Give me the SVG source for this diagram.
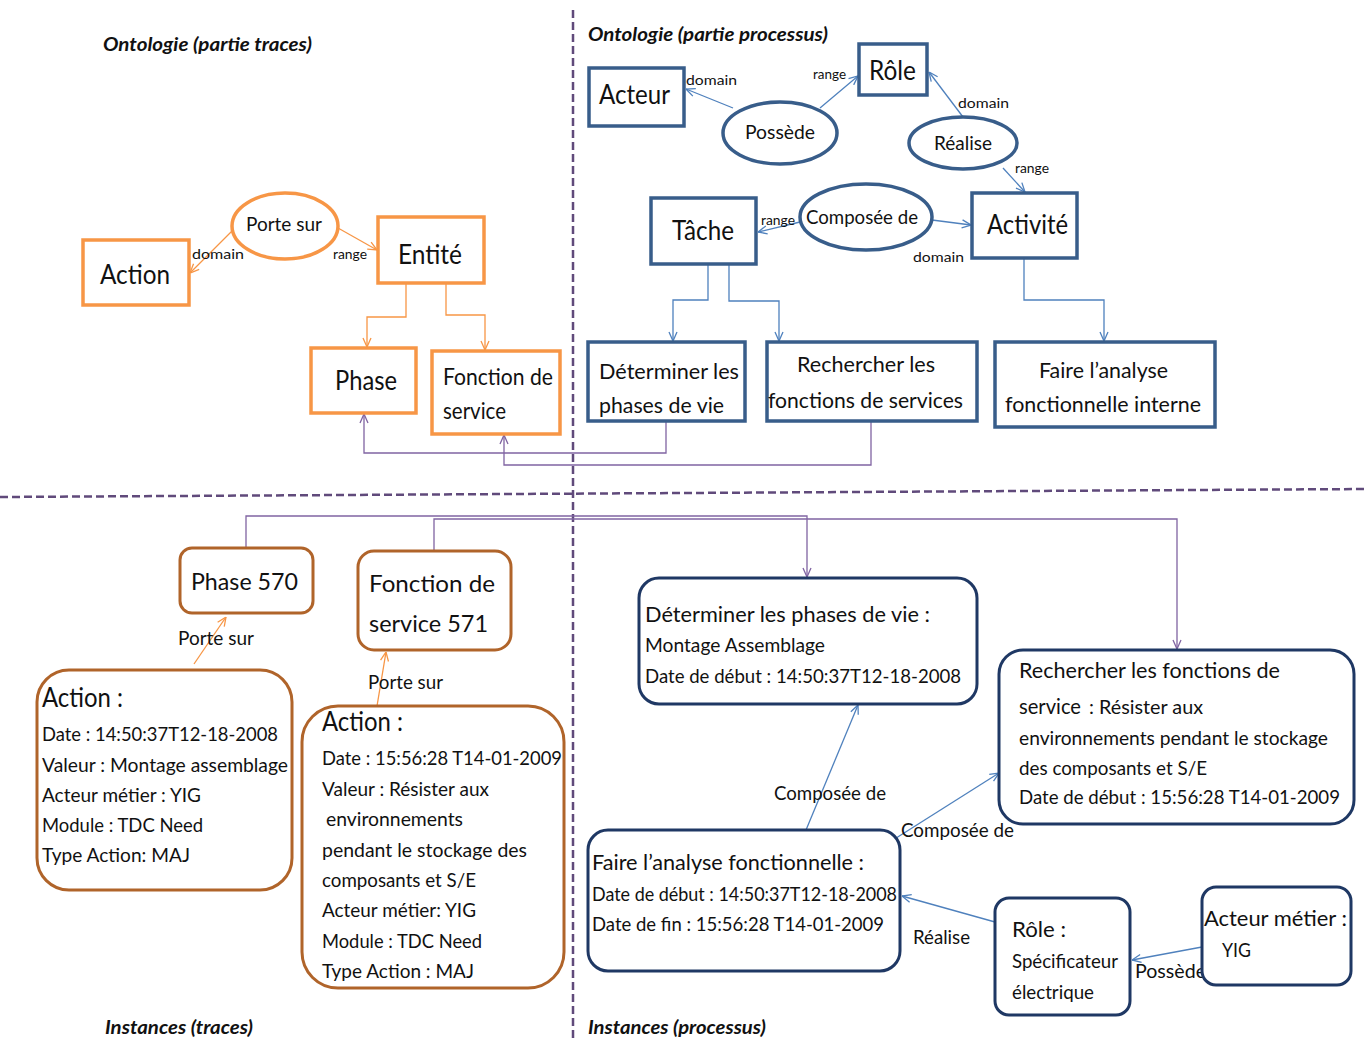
<svg xmlns="http://www.w3.org/2000/svg" width="1371" height="1039" viewBox="0 0 1371 1039">
<style>
text{font-family:Lato,"Open Sans","Liberation Sans",sans-serif;fill:#111}
.t26{font-size:26px}
.t24{font-size:24px}
.t22{font-size:22px}
.t20{font-size:20px}
.t14{font-size:14px}
.title{font-size:19px;font-weight:bold;font-style:italic}
.ob{fill:#fff;stroke:#f79646;stroke-width:3.5}
.bb{fill:#fff;stroke:#385d8a;stroke-width:3.5}
.br{fill:#fff;stroke:#b0642a;stroke-width:3}
.nv{fill:#fff;stroke:#1f3864;stroke-width:3}
.co{fill:none;stroke:#f79646;stroke-width:1.3}
.cb{fill:none;stroke:#4f81bd;stroke-width:1.3}
.cp{fill:none;stroke:#8064a2;stroke-width:1.3}
.sep{fill:none;stroke:#604a7b;stroke-width:2.5;stroke-dasharray:8 4}
</style>
<defs>
<marker id="ao" viewBox="0 0 10 10" refX="10" refY="5" markerWidth="10" markerHeight="10" markerUnits="userSpaceOnUse" orient="auto"><path d="M1,1 L10,5 L1,9" fill="none" stroke="#f79646" stroke-width="1.3"/></marker>
<marker id="ab" viewBox="0 0 10 10" refX="10" refY="5" markerWidth="10" markerHeight="10" markerUnits="userSpaceOnUse" orient="auto"><path d="M1,1 L10,5 L1,9" fill="none" stroke="#4f81bd" stroke-width="1.3"/></marker>
<marker id="ap" viewBox="0 0 10 10" refX="10" refY="5" markerWidth="10" markerHeight="10" markerUnits="userSpaceOnUse" orient="auto"><path d="M1,1 L10,5 L1,9" fill="none" stroke="#8064a2" stroke-width="1.3"/></marker>
</defs>
<rect width="1371" height="1039" fill="#fff"/>

<g id="separators">
<line class="sep" x1="573" y1="10" x2="573" y2="1039" stroke-dasharray="10 5"/>
<line class="sep" x1="0" y1="497" x2="1366" y2="489"/>
</g>

<g id="titles">
<text class="title" x="103" y="51" textLength="209" lengthAdjust="spacingAndGlyphs">Ontologie (partie traces)</text>
<text class="title" x="588" y="41" textLength="240" lengthAdjust="spacingAndGlyphs">Ontologie (partie processus)</text>
<text class="title" x="105" y="1034" textLength="148" lengthAdjust="spacingAndGlyphs">Instances (traces)</text>
<text class="title" x="588" y="1034" textLength="178" lengthAdjust="spacingAndGlyphs">Instances (processus)</text>
</g>

<g id="connectors">
<!-- orange ontology -->
<line class="co" x1="232" y1="231" x2="190" y2="273" marker-end="url(#ao)"/>
<line class="co" x1="338" y1="228" x2="377" y2="250" marker-end="url(#ao)"/>
<path class="co" d="M406,284 V317 H367 V347" marker-end="url(#ao)"/>
<path class="co" d="M446,284 V315 H485 V350" marker-end="url(#ao)"/>
<text class="t14" x="192" y="259" textLength="52" lengthAdjust="spacingAndGlyphs">domain</text>
<text class="t14" x="333" y="259" textLength="34" lengthAdjust="spacingAndGlyphs">range</text>
<!-- blue ontology -->
<line class="cb" x1="733" y1="108" x2="686" y2="89" marker-end="url(#ab)"/>
<line class="cb" x1="820" y1="108" x2="858" y2="76" marker-end="url(#ab)"/>
<line class="cb" x1="963" y1="117" x2="929" y2="72" marker-end="url(#ab)"/>
<line class="cb" x1="1003" y1="168" x2="1025" y2="192" marker-end="url(#ab)"/>
<line class="cb" x1="800" y1="222" x2="758" y2="232" marker-end="url(#ab)"/>
<line class="cb" x1="932" y1="220" x2="971" y2="225" marker-end="url(#ab)"/>
<path class="cb" d="M708,265 V300 H673 V341" marker-end="url(#ab)"/>
<path class="cb" d="M729,265 V301 H779 V341" marker-end="url(#ab)"/>
<path class="cb" d="M1024,259 V300 H1104 V341" marker-end="url(#ab)"/>
<text class="t14" x="686" y="85" textLength="51" lengthAdjust="spacingAndGlyphs">domain</text>
<text class="t14" x="813" y="79" textLength="33" lengthAdjust="spacingAndGlyphs">range</text>
<text class="t14" x="958" y="108" textLength="51" lengthAdjust="spacingAndGlyphs">domain</text>
<text class="t14" x="1015" y="173" textLength="34" lengthAdjust="spacingAndGlyphs">range</text>
<text class="t14" x="761" y="225" textLength="34" lengthAdjust="spacingAndGlyphs">range</text>
<text class="t14" x="913" y="262" textLength="51" lengthAdjust="spacingAndGlyphs">domain</text>
<!-- purple ontology -->
<path class="cp" d="M666,422 V453 H364 V414" marker-end="url(#ap)"/>
<path class="cp" d="M871,422 V465 H504 V435" marker-end="url(#ap)"/>
<!-- purple instances -->
<path class="cp" d="M246,547 V516 H807 V577" marker-end="url(#ap)"/>
<path class="cp" d="M434,550 V519 H1177 V649" marker-end="url(#ap)"/>
<!-- orange instances -->
<line class="co" x1="194" y1="664" x2="226" y2="617" marker-end="url(#ao)"/>
<line class="co" x1="376" y1="712" x2="386" y2="652" marker-end="url(#ao)"/>
<text class="t20" x="178" y="645" textLength="76" lengthAdjust="spacingAndGlyphs">Porte sur</text>
<text class="t20" x="368" y="689" textLength="75" lengthAdjust="spacingAndGlyphs">Porte sur</text>
<!-- blue instances -->
<line class="cb" x1="806" y1="830" x2="858" y2="705" marker-end="url(#ab)"/>
<line class="cb" x1="893" y1="840" x2="999" y2="773" marker-end="url(#ab)"/>
<line class="cb" x1="995" y1="922" x2="902" y2="896" marker-end="url(#ab)"/>
<line class="cb" x1="1202" y1="947" x2="1132" y2="960" marker-end="url(#ab)"/>
<text class="t20" x="774" y="800" textLength="112" lengthAdjust="spacingAndGlyphs">Composée de</text>
<text class="t20" x="901" y="837" textLength="113" lengthAdjust="spacingAndGlyphs">Composée de</text>
<text class="t20" x="913" y="944" textLength="57" lengthAdjust="spacingAndGlyphs">Réalise</text>
<text class="t20" x="1135" y="978" textLength="71" lengthAdjust="spacingAndGlyphs">Possède</text>
</g>

<!-- ontology traces -->
<g id="action"><rect class="ob" x="83" y="240" width="106" height="65"/><text class="t26" x="100" y="284" textLength="70" lengthAdjust="spacingAndGlyphs">Action</text></g>
<g id="porte-sur"><ellipse class="ob" cx="285" cy="226" rx="53" ry="33"/><text class="t20" x="246" y="231" textLength="76" lengthAdjust="spacingAndGlyphs">Porte sur</text></g>
<g id="entite"><rect class="ob" x="378" y="217" width="106" height="66"/><text class="t26" x="398" y="264" textLength="64" lengthAdjust="spacingAndGlyphs">Entité</text></g>
<g id="phase"><rect class="ob" x="311" y="348" width="105" height="65"/><text class="t26" x="335" y="390" textLength="62" lengthAdjust="spacingAndGlyphs">Phase</text></g>
<g id="fonction-service"><rect class="ob" x="432" y="351" width="128" height="83"/><text class="t24" x="443" y="385" textLength="110" lengthAdjust="spacingAndGlyphs">Fonction de</text><text class="t24" x="443" y="419" textLength="63" lengthAdjust="spacingAndGlyphs">service</text></g>

<!-- ontology processus -->
<g id="acteur"><rect class="bb" x="589" y="68" width="95" height="58"/><text class="t26" x="599" y="104" textLength="71" lengthAdjust="spacingAndGlyphs">Acteur</text></g>
<g id="role"><rect class="bb" x="859" y="44" width="68" height="51"/><text class="t26" x="869" y="80" textLength="47" lengthAdjust="spacingAndGlyphs">Rôle</text></g>
<g id="possede"><ellipse class="bb" cx="780" cy="133" rx="57" ry="31"/><text class="t20" x="745" y="139" textLength="70" lengthAdjust="spacingAndGlyphs">Possède</text></g>
<g id="realise"><ellipse class="bb" cx="963" cy="143" rx="54" ry="26"/><text class="t20" x="934" y="150" textLength="58" lengthAdjust="spacingAndGlyphs">Réalise</text></g>
<g id="tache"><rect class="bb" x="651" y="198" width="105" height="66"/><text class="t26" x="672" y="240" textLength="62" lengthAdjust="spacingAndGlyphs">Tâche</text></g>
<g id="composee"><ellipse class="bb" cx="866" cy="217" rx="66" ry="33"/><text class="t20" x="806" y="224" textLength="112" lengthAdjust="spacingAndGlyphs">Composée de</text></g>
<g id="activite"><rect class="bb" x="972" y="193" width="105" height="65"/><text class="t26" x="987" y="234" textLength="81" lengthAdjust="spacingAndGlyphs">Activité</text></g>
<g id="determiner"><rect class="bb" x="588" y="342" width="157" height="79"/><text class="t22" x="599" y="379" textLength="140" lengthAdjust="spacingAndGlyphs">Déterminer  les</text><text class="t22" x="599" y="413" textLength="125" lengthAdjust="spacingAndGlyphs">phases de vie</text></g>
<g id="rechercher"><rect class="bb" x="767" y="342" width="210" height="79"/><text class="t22" x="797" y="372" textLength="138" lengthAdjust="spacingAndGlyphs">Rechercher  les</text><text class="t22" x="768" y="408" textLength="195" lengthAdjust="spacingAndGlyphs">fonctions de services</text></g>
<g id="faire"><rect class="bb" x="995" y="342" width="220" height="85"/><text class="t22" x="1039" y="378" textLength="129" lengthAdjust="spacingAndGlyphs">Faire l’analyse</text><text class="t22" x="1005" y="412" textLength="196" lengthAdjust="spacingAndGlyphs">fonctionnelle interne</text></g>

<!-- instances traces -->
<g id="phase-570"><rect class="br" x="180" y="548" width="133" height="65" rx="12"/><text class="t24" x="191" y="590" textLength="107" lengthAdjust="spacingAndGlyphs">Phase 570</text></g>
<g id="fonction-571"><rect class="br" x="358" y="551" width="153" height="99" rx="16"/><text class="t24" x="369" y="592" textLength="126" lengthAdjust="spacingAndGlyphs">Fonction de</text><text class="t24" x="369" y="632" textLength="119" lengthAdjust="spacingAndGlyphs">service 571</text></g>
<g id="action-1"><rect class="br" x="37" y="670" width="255" height="220" rx="32"/>
<text class="t26" x="42" y="707" textLength="81" lengthAdjust="spacingAndGlyphs">Action :</text>
<text class="t20" x="42" y="741" textLength="236" lengthAdjust="spacingAndGlyphs">Date : 14:50:37T12-18-2008</text>
<text class="t20" x="42" y="772" textLength="246" lengthAdjust="spacingAndGlyphs">Valeur : Montage assemblage</text>
<text class="t20" x="42" y="802" textLength="159" lengthAdjust="spacingAndGlyphs">Acteur métier : YIG</text>
<text class="t20" x="42" y="832" textLength="161" lengthAdjust="spacingAndGlyphs">Module : TDC Need</text>
<text class="t20" x="42" y="862" textLength="148" lengthAdjust="spacingAndGlyphs">Type Action:  MAJ</text></g>
<g id="action-2"><rect class="br" x="302" y="706" width="262" height="282" rx="36"/>
<text class="t26" x="322" y="731" textLength="81" lengthAdjust="spacingAndGlyphs">Action :</text>
<text class="t20" x="322" y="765" textLength="240" lengthAdjust="spacingAndGlyphs">Date : 15:56:28 T14-01-2009</text>
<text class="t20" x="322" y="796" textLength="167" lengthAdjust="spacingAndGlyphs">Valeur : Résister aux</text>
<text class="t20" x="326" y="826" textLength="137" lengthAdjust="spacingAndGlyphs">environnements</text>
<text class="t20" x="322" y="857" textLength="205" lengthAdjust="spacingAndGlyphs">pendant le  stockage des</text>
<text class="t20" x="322" y="887" textLength="154" lengthAdjust="spacingAndGlyphs">composants et S/E</text>
<text class="t20" x="322" y="917" textLength="154" lengthAdjust="spacingAndGlyphs">Acteur métier: YIG</text>
<text class="t20" x="322" y="948" textLength="160" lengthAdjust="spacingAndGlyphs">Module : TDC Need</text>
<text class="t20" x="322" y="978" textLength="152" lengthAdjust="spacingAndGlyphs">Type Action :  MAJ</text></g>

<!-- instances processus -->
<g id="determiner-inst"><rect class="nv" x="639" y="578" width="338" height="126" rx="20"/>
<text class="t22" x="645" y="622" textLength="285" lengthAdjust="spacingAndGlyphs">Déterminer  les phases de vie :</text>
<text class="t20" x="645" y="652" textLength="180" lengthAdjust="spacingAndGlyphs">Montage Assemblage</text>
<text class="t20" x="645" y="683" textLength="316" lengthAdjust="spacingAndGlyphs">Date de début : 14:50:37T12-18-2008</text></g>
<g id="rechercher-inst"><rect class="nv" x="999" y="650" width="355" height="174" rx="24"/>
<text class="t22" x="1019" y="678" textLength="261" lengthAdjust="spacingAndGlyphs">Rechercher  les fonctions de</text>
<text class="t22" x="1019" y="714" textLength="62" lengthAdjust="spacingAndGlyphs">service</text>
<text class="t20" x="1089" y="714" textLength="114" lengthAdjust="spacingAndGlyphs">: Résister aux</text>
<text class="t20" x="1019" y="745" textLength="309" lengthAdjust="spacingAndGlyphs">environnements pendant le stockage</text>
<text class="t20" x="1019" y="775" textLength="188" lengthAdjust="spacingAndGlyphs">des composants et S/E</text>
<text class="t20" x="1019" y="804" textLength="321" lengthAdjust="spacingAndGlyphs">Date de début : 15:56:28 T14-01-2009</text></g>
<g id="faire-inst"><rect class="nv" x="588" y="830" width="312" height="141" rx="20"/>
<text class="t22" x="592" y="870" textLength="272" lengthAdjust="spacingAndGlyphs">Faire l’analyse fonctionnelle :</text>
<text class="t20" x="592" y="901" textLength="305" lengthAdjust="spacingAndGlyphs">Date de début : 14:50:37T12-18-2008</text>
<text class="t20" x="592" y="931" textLength="292" lengthAdjust="spacingAndGlyphs">Date de fin : 15:56:28 T14-01-2009</text></g>
<g id="role-inst"><rect class="nv" x="995" y="898" width="135" height="117" rx="14"/>
<text class="t22" x="1012" y="937" textLength="54" lengthAdjust="spacingAndGlyphs">Rôle :</text>
<text class="t20" x="1012" y="968" textLength="106" lengthAdjust="spacingAndGlyphs">Spécificateur</text>
<text class="t20" x="1012" y="999" textLength="82" lengthAdjust="spacingAndGlyphs">électrique</text></g>
<g id="acteur-inst"><rect class="nv" x="1202" y="887" width="149" height="98" rx="14"/>
<text class="t22" x="1204" y="926" textLength="143" lengthAdjust="spacingAndGlyphs">Acteur métier :</text>
<text class="t20" x="1222" y="957" textLength="29" lengthAdjust="spacingAndGlyphs">YIG</text></g>
</svg>
